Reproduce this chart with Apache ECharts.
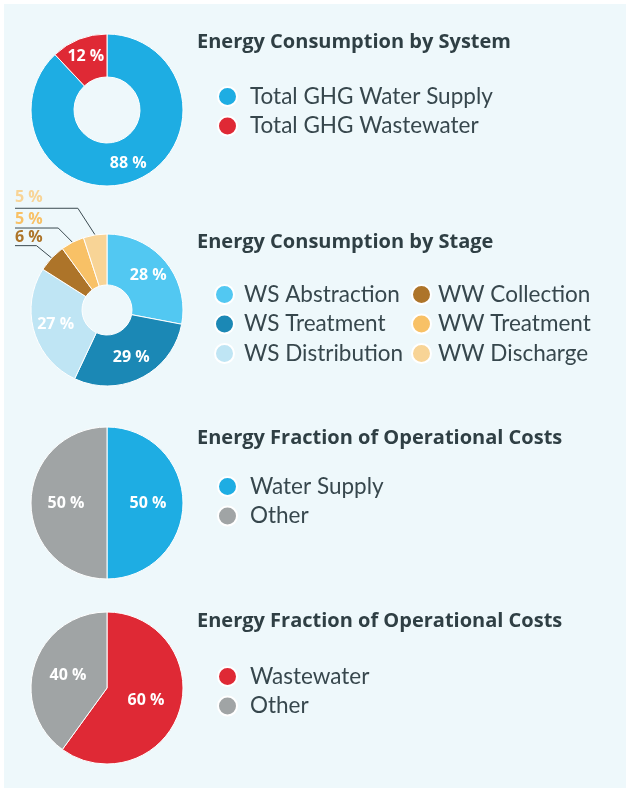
<!DOCTYPE html>
<html>
<head>
<meta charset="utf-8">
<script src="https://cdn.jsdelivr.net/npm/echarts@6/dist/echarts.min.js"></script>
<style>
  body { margin: 0; background: #fff; }
  #main { width: 630px; height: 792px; }
</style>
</head>
<body>
<div id="main"></div>
<script>
// 数据
var systemNames = ['Total GHG Water Supply', 'Total GHG Wastewater'];
var systemValues = [88, 12];

var stageNames = ['WS Abstraction', 'WS Treatment', 'WS Distribution', 'WW Collection', 'WW Treatment', 'WW Discharge'];
var stageValues = [28, 29, 27, 6, 5, 5];

var wsCostNames = ['Water Supply', 'Other'];
var wsCostValues = [50, 50];

var wwCostNames = ['Wastewater', 'Other'];
var wwCostValues = [60, 40];

var titles = ['Energy Consumption by System', 'Energy Consumption by Stage',
  'Energy Fraction of Operational Costs', 'Energy Fraction of Operational Costs'];

// 颜色
var BLUE = '#1eade3', RED = '#df2935', GREY = '#a0a4a5';
var stageColors = ['#52c8f2', '#1b88b5', '#bfe5f4', '#ad7429', '#f8c166', '#f8d496'];
var TEXT = '#37474d';

// 外侧标签引线：径向长度、往左的偏移、文字离线的距离
var leadLen = [18, 16, 27];
var leadSlant = [2, 7, 13];
var leadLift = [0, 1, 3];

var insideLabel = {
  show: true,
  position: 'inside',
  formatter: '{c} %',
  color: '#fff',
  fontFamily: 'Open Sans',
  fontWeight: 'bold',
  fontSize: 16
};

function toData(names, values, colors) {
  return names.map(function (n, i) {
    return { name: n, value: values[i], itemStyle: { color: colors[i] } };
  });
}

// 阶段图：小扇区标签放在外侧
var stageData = toData(stageNames, stageValues, stageColors).map(function (d, i) {
  if (i >= 3) {
    d.label = {
      show: true, position: 'outside', formatter: '{c} %',
      color: stageColors[i], fontFamily: 'Open Sans', fontWeight: 'bold', fontSize: 16
    };
    d.labelLine = { show: true, length: leadLen[i - 3], length2: 10, smooth: false,
      lineStyle: { color: '#3b4a50', width: 1 } };
  }
  return d;
});

function legend(names, left, top, gap) {
  return {
    data: names,
    orient: 'vertical',
    left: left,
    top: top,
    padding: 0,
    itemGap: 6.5,
    itemWidth: 19,
    itemHeight: 19,
    icon: 'circle',
    selectedMode: false,
    formatter: function (name) { return '{t|' + name + '}'; },
    textStyle: {
      color: TEXT, fontFamily: 'Lato', fontSize: 22.5,
      rich: { t: { color: TEXT, fontFamily: 'Lato', fontSize: 22.5, padding: [0, 0, 0, gap] } }
    }
  };
}

function title(text, top) {
  return {
    text: text,
    left: 197,
    top: top,
    padding: 0,
    textStyle: { color: '#2f3f44', fontFamily: 'Open Sans', fontWeight: 'bold', fontSize: 20 }
  };
}

var pieBase = {
  type: 'pie',
  startAngle: 90,
  clockwise: true,
  avoidLabelOverlap: false,
  silent: true,
  itemStyle: { borderColor: '#fff', borderWidth: 1 },
  label: insideLabel,
  labelLine: { show: false }
};

var option = {
  animation: false,
  backgroundColor: '#fff',
  graphic: [{
    type: 'rect', shape: { x: 4, y: 4, width: 622, height: 784 },
    style: { fill: '#eef8fb' }, z: -10, silent: true
  }],
  title: [title(titles[0], 32), title(titles[1], 232), title(titles[2], 428), title(titles[3], 611)],
  legend: [
    legend(systemNames, 217, 85, 8),
    legend(stageNames.slice(0, 3), 214, 283, 5),
    legend(stageNames.slice(3), 411, 283, 2),
    legend(wsCostNames, 217, 475, 8),
    legend(wwCostNames, 217, 665, 8)
  ],
  series: [
    Object.assign({}, pieBase, {
      center: [107, 110], radius: [33, 76],
      data: toData(systemNames, systemValues, [BLUE, RED])
    }),
    Object.assign({}, pieBase, {
      center: [107, 310], radius: [25, 76],
      data: stageData,
      labelLayout: function (p) {
        var pts = p.labelLinePoints;
        if (!pts || p.dataIndex < 3) return;
        var k = p.dataIndex - 3;
        var y = pts[1][1];
        var elbow = [pts[1][0] - leadSlant[k], y];
        return {
          x: 15, y: y - leadLift[k], align: 'left', verticalAlign: 'bottom',
          labelLinePoints: [pts[0], elbow, [15, y]]
        };
      }
    }),
    Object.assign({}, pieBase, {
      center: [107, 503], radius: [0, 76],
      data: toData(wsCostNames, wsCostValues, [BLUE, GREY])
    }),
    Object.assign({}, pieBase, {
      center: [107, 688], radius: [0, 76],
      data: toData(wwCostNames, wwCostValues, [RED, GREY])
    })
  ]
};

var myChart = echarts.init(document.getElementById('main'));
myChart.setOption(option);
</script>
</body>
</html>
